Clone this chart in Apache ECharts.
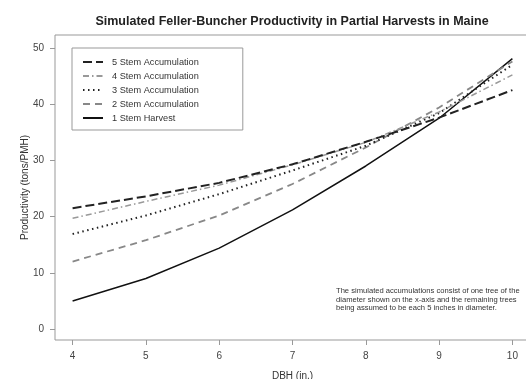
<!DOCTYPE html>
<html><head><meta charset="utf-8">
<script src="https://cdn.jsdelivr.net/npm/echarts@6/dist/echarts.min.js"></script>
<style>html,body{margin:0;padding:0;background:#fff}#c{width:526px;height:379px}</style>
</head><body><div id="c"></div>
<script>
var dbh = [4, 5, 6, 7, 8, 9, 10];
var xTicks = [4, 5, 6, 7, 8, 9, 10];
var yTicks = [0, 10, 20, 30, 40, 50];
var stem5 = [21.5, 23.6, 26.0, 29.3, 33.3, 37.6, 42.5];
var stem4 = [19.7, 22.7, 25.6, 29.2, 33.2, 38.6, 45.2];
var stem3 = [16.9, 20.2, 24.0, 28.2, 32.6, 38.4, 47.0];
var stem2 = [12.0, 15.8, 20.2, 25.8, 32.3, 39.4, 47.6];
var stem1 = [5.0, 9.0, 14.4, 21.2, 29.0, 37.5, 48.1];
var names = ['5 Stem Accumulation', '4 Stem Accumulation', '3 Stem Accumulation', '2 Stem Accumulation', '1 Stem Harvest'];

function pts(v) { return dbh.map(function (d, i) { return [d, v[i]]; }); }
var styles = [
  { color: '#222', width: 2, type: [9, 4] },
  { color: '#999', width: 1.5, type: [6, 3, 1.5, 3] },
  { color: '#222', width: 2, type: [1.5, 3.5] },
  { color: '#888', width: 1.8, type: [7, 5] },
  { color: '#111', width: 1.5, type: 'solid' }
];
var data = [stem5, stem4, stem3, stem2, stem1];
var series = data.map(function (v, i) {
  return {
    name: names[i], type: 'line', data: pts(v), symbol: 'none', showSymbol: false,
    lineStyle: { color: styles[i].color, width: styles[i].width, type: styles[i].type },
    itemStyle: { color: styles[i].color }, z: 10 - i
  };
});

var chart = echarts.init(document.getElementById('c'));
chart.setOption({
  animation: false,
  title: {
    text: 'Simulated Feller-Buncher Productivity in Partial Harvests in Maine',
    left: 287, top: 10, textAlign: 'center',
    textStyle: { fontFamily: 'Liberation Sans', fontSize: 12.5, fontWeight: 'bold', color: '#222' }
  },
  grid: { left: 55, top: 35, width: 475, height: 305, show: true, borderColor: '#999', borderWidth: 1, backgroundColor: 'transparent', outerBoundsMode: 'none', containLabel: false },
  legend: {
    orient: 'vertical', left: 72, top: 48,
    itemWidth: 20, itemHeight: 12, itemGap: 2,
    itemStyle: { opacity: 0, borderWidth: 0 },
    padding: [8, 44, 6, 10],
    borderColor: '#999', borderWidth: 1,
    textStyle: { fontFamily: 'Liberation Sans', fontSize: 9.2, color: '#333', padding: [0, 0, 0, 4], lineHeight: 12 },
    data: names
  },
  xAxis: {
    type: 'value', min: 3.76, max: 10.24,
    name: 'DBH (in.)', nameLocation: 'middle', nameGap: 31, nameMoveOverlap: false,
    nameTextStyle: { fontFamily: 'Liberation Sans', fontSize: 10, color: '#333' },
    axisLine: { show: false, onZero: false },
    axisTick: { show: true, length: 5, customValues: xTicks, lineStyle: { color: '#999' } },
    axisLabel: { customValues: xTicks, margin: 11, fontFamily: 'Liberation Sans', fontSize: 10, color: '#444' },
    splitLine: { show: false }
  },
  yAxis: {
    type: 'value', min: -1.95, max: 52.3,
    name: 'Productivity (tons/PMH)', nameLocation: 'middle', nameGap: 25, nameMoveOverlap: false,
    nameTextStyle: { fontFamily: 'Liberation Sans', fontSize: 10, color: '#333' },
    axisLine: { show: false, onZero: false },
    axisTick: { show: true, length: 5, customValues: yTicks, lineStyle: { color: '#999' } },
    axisLabel: { customValues: yTicks, margin: 11, fontFamily: 'Liberation Sans', fontSize: 10, color: '#444' },
    splitLine: { show: false }
  },
  graphic: [{
    type: 'text', left: 336, top: 287,
    style: {
      text: 'The simulated accumulations consist of one tree of the\ndiameter shown on the x-axis and the remaining trees\nbeing assumed to be each 5 inches in diameter.',
      fontFamily: 'Liberation Sans', fontSize: 7.6, lineHeight: 8.5, fill: '#333'
    }
  }],
  series: series
});
</script></body></html>
